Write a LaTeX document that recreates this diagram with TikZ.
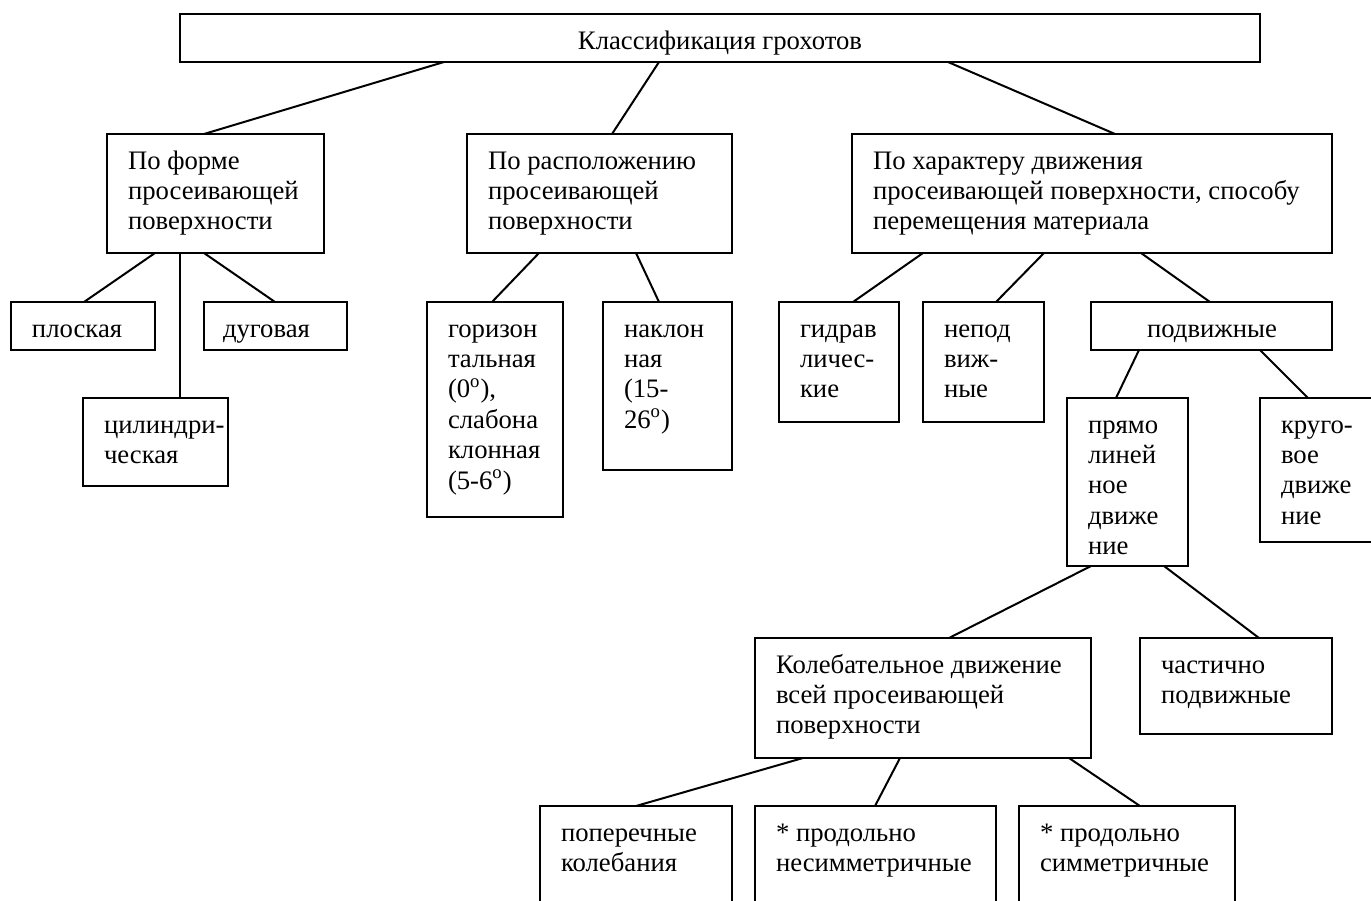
\documentclass[tikz,border=0pt]{standalone}
\usepackage{fontspec}
\setmainfont{Liberation Serif}
\usetikzlibrary{calc}
\tikzset{
  bx/.style={draw, line width=1pt, inner sep=0pt, outer sep=0pt, anchor=north west},
  txt/.style={inner sep=0pt, outer sep=0pt, anchor=base west, font=\fontsize{13.35pt}{15.2pt}\selectfont},
  ctxt/.style={inner sep=0pt, outer sep=0pt, anchor=base, font=\fontsize{13.35pt}{15.2pt}\selectfont},
  ln/.style={line width=1pt}
}
\newcommand{\bbox}[5]{\node[bx, minimum width={(#4-#2)*0.5pt}, minimum height={(#5-#3)*0.5pt}] (#1) at (#2,#3) {};}
\newcommand{\btext}[2]{\node[txt] (#1-t) at ($(#1.north west)+(21,35)$) {\parbox[t]{300pt}{#2}};}
\newcommand{\dg}{\textsuperscript{o}}
\begin{document}
\begin{tikzpicture}[x=0.5pt, y=-0.5pt]
\useasboundingbox (0,0) rectangle (1371,900);
\clip (0,0) rectangle (1371,900);
% boxes
\bbox{top}{180}{14}{1260}{62}
\bbox{forma}{107}{134}{324}{253}
\bbox{rasp}{467}{134}{732}{253}
\bbox{harakt}{852}{134}{1332}{253}
\bbox{plosk}{11}{302}{155}{350}
\bbox{dugov}{204}{302}{347}{350}
\bbox{cilin}{83}{398}{228}{486}
\bbox{goriz}{427}{302}{563}{517}
\bbox{naklon}{603}{302}{732}{470}
\bbox{gidr}{779}{302}{899}{422}
\bbox{nepod}{923}{302}{1044}{422}
\bbox{podv}{1091}{302}{1332}{350}
\bbox{pryamo}{1067}{398}{1188}{566}
\bbox{krug}{1260}{398}{1390}{542}
\bbox{koleb}{755}{638}{1091}{758}
\bbox{chast}{1140}{638}{1332}{734}
\bbox{poper}{540}{806}{732}{930}
\bbox{nesim}{755}{806}{996}{930}
\bbox{sim}{1019}{806}{1235}{930}
% texts
\node[ctxt] (top-t) at (720,49) {Классификация грохотов};
\btext{forma}{По форме\\просеивающей\\поверхности}
\btext{rasp}{По расположению\\просеивающей\\поверхности}
\btext{harakt}{По характеру движения\\просеивающей поверхности, способу\\перемещения материала}
\btext{plosk}{плоская}
\node[txt] (dugov-t) at ($(dugov.north west)+(19,35)$) {дуговая};
\btext{cilin}{цилиндри-\\ческая}
\btext{goriz}{горизон\\тальная\\(0\dg),\\слабона\\клонная\\(5-6\dg)}
\btext{naklon}{наклон\\ная\\(15-\\26\dg)}
\btext{gidr}{гидрав\\личес-\\кие}
\btext{nepod}{непод\\виж-\\ные}
\node[ctxt] (podv-t) at ($(podv.north west)+(121,35)$) {подвижные};
\btext{pryamo}{прямо\\линей\\ное\\движе\\ние}
\btext{krug}{круго-\\вое\\движе\\ние}
\btext{koleb}{Колебательное движение\\всей просеивающей\\поверхности}
\btext{chast}{частично\\подвижные}
\btext{poper}{поперечные\\колебания}
\btext{nesim}{* продольно\\несимметричные}
\btext{sim}{* продольно\\симметричные}
% connectors
\draw[ln] ($(top.south west)+(264,0)$) -- ($(forma.north west)+(97,0)$);
\draw[ln] ($(top.south west)+(479,0)$) -- ($(rasp.north west)+(145,0)$);
\draw[ln] ($(top.south west)+(768,0)$) -- ($(harakt.north west)+(263,0)$);
\draw[ln] ($(forma.south west)+(48,0)$) -- ($(plosk.north west)+(73,0)$);
\draw[ln] ($(forma.south west)+(73,0)$) -- ($(cilin.north west)+(97,0)$);
\draw[ln] ($(forma.south west)+(97,0)$) -- ($(dugov.north west)+(71,0)$);
\draw[ln] ($(rasp.south west)+(72,0)$) -- ($(goriz.north west)+(65,0)$);
\draw[ln] ($(rasp.south west)+(169,0)$) -- ($(naklon.north west)+(56,0)$);
\draw[ln] ($(harakt.south west)+(71,0)$) -- ($(gidr.north west)+(74,0)$);
\draw[ln] ($(harakt.south west)+(192,0)$) -- ($(nepod.north west)+(73,0)$);
\draw[ln] ($(harakt.south west)+(289,0)$) -- ($(podv.north west)+(119,0)$);
\draw[ln] ($(podv.south west)+(48,0)$) -- ($(pryamo.north west)+(49,0)$);
\draw[ln] ($(podv.south west)+(169,0)$) -- ($(krug.north west)+(48,0)$);
\draw[ln] ($(pryamo.south west)+(24,0)$) -- ($(koleb.north west)+(194,0)$);
\draw[ln] ($(pryamo.south west)+(97,0)$) -- ($(chast.north west)+(119,0)$);
\draw[ln] ($(koleb.south west)+(48,0)$) -- ($(poper.north west)+(96,0)$);
\draw[ln] ($(koleb.south west)+(145,0)$) -- ($(nesim.north west)+(120,0)$);
\draw[ln] ($(koleb.south west)+(314,0)$) -- ($(sim.north west)+(121,0)$);
\end{tikzpicture}
\end{document}
